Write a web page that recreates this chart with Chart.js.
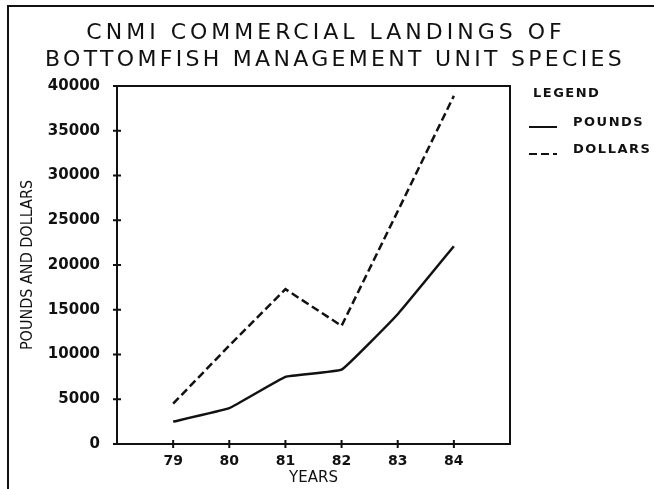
<!DOCTYPE html>
<html>
<head>
<meta charset="utf-8">
<title>CNMI Commercial Landings</title>
<script src="https://cdn.jsdelivr.net/npm/chart.js@4/dist/chart.umd.min.js"></script>
<style>
    html, body { margin: 0; padding: 0; background: #fff; }
    #wrap { width: 654px; height: 489px; position: relative; }
</style>
</head>
<body>
<div id="wrap"><canvas id="landingsChart" width="654" height="489"></canvas></div>
<script>
// --- 1. Data ---

const years = [79, 80, 81, 82, 83, 84];
const pounds = [2500, 4000, 7500, 8300, 14500, 22100];
const dollars = [4500, 11000, 17300, 13200, 26000, 38900];
const yTicks = [0, 5000, 10000, 15000, 20000, 25000, 30000, 35000, 40000];
const titleLines = ['CNMI COMMERCIAL LANDINGS OF', 'BOTTOMFISH MANAGEMENT UNIT SPECIES'];

const INK = '#111';

function toPoints(values) {
    return years.map((yr, i) => ({ x: yr, y: values[i] }));
}

// --- 2. Plugins: frame, title, tick marks, legend ---

const paperPlugin = {
    id: 'paper',
    beforeDraw(chart) {
        const ctx = chart.ctx;
        ctx.save();
        ctx.fillStyle = '#fff';
        ctx.fillRect(0, 0, chart.width, chart.height);
        ctx.strokeStyle = INK;
        ctx.lineWidth = 2;
        ctx.beginPath();
        ctx.moveTo(8, chart.height);
        ctx.lineTo(8, 6);
        ctx.lineTo(chart.width, 6);
        ctx.stroke();
        ctx.restore();
    },
    afterDraw(chart) {
        const ctx = chart.ctx;
        const a = chart.chartArea;
        const xs = chart.scales.x;
        const ys = chart.scales.y;
        ctx.save();
        ctx.strokeStyle = INK;
        ctx.lineWidth = 2;
        ctx.strokeRect(a.left, a.top, a.right - a.left, a.bottom - a.top);
        ctx.beginPath();
        ys.ticks.forEach(t => {
            const py = ys.getPixelForValue(t.value);
            ctx.moveTo(a.left - 4, py);
            ctx.lineTo(a.left + 4, py);
        });
        xs.ticks.forEach(t => {
            const px = xs.getPixelForValue(t.value);
            ctx.moveTo(px, a.bottom - 4);
            ctx.lineTo(px, a.bottom + 4);
        });
        ctx.stroke();

        // title
        ctx.fillStyle = INK;
        ctx.font = '22px "DejaVu Sans"';
        ctx.textAlign = 'center';
        ctx.textBaseline = 'middle';
        ctx.letterSpacing = '4px';
        ctx.fillText(titleLines[0], 326, 33);
        ctx.letterSpacing = '3.3px';
        ctx.fillText(titleLines[1], 335, 60);

        // legend
        ctx.font = 'bold 13px "DejaVu Sans"';
        ctx.letterSpacing = '1.5px';
        ctx.textAlign = 'left';
        ctx.fillText('LEGEND', 533, 94);
        chart.data.datasets.forEach((ds, i) => {
            const ty = 123 + i * 27;
            ctx.beginPath();
            ctx.setLineDash(ds.borderDash || []);
            ctx.lineWidth = 2;
            ctx.moveTo(529, ty + 4);
            ctx.lineTo(557, ty + 4);
            ctx.stroke();
            ctx.setLineDash([]);
            ctx.fillText(ds.label, 573, ty);
        });
        ctx.restore();
    }
};

// --- 3. Chart ---

const xTickFont = { family: '"DejaVu Sans"', size: 14, weight: 'bold' };
const yTickFont = { family: '"DejaVu Sans"', size: 15, weight: 'bold' };

new Chart(document.getElementById('landingsChart'), {
    type: 'line',
    data: {
        datasets: [
            {
                label: 'POUNDS',
                data: toPoints(pounds),
                borderColor: INK,
                borderWidth: 2.5,
                pointRadius: 0,
                tension: 0.08
            },
            {
                label: 'DOLLARS',
                data: toPoints(dollars),
                borderColor: INK,
                borderWidth: 2.5,
                borderDash: [8, 4],
                pointRadius: 0,
                tension: 0
            }
        ]
    },
    options: {
        responsive: false,
        animation: false,
        layout: { padding: { left: 18, right: 144, top: 86, bottom: 0 } },
        plugins: {
            legend: { display: false },
            title: { display: false },
            tooltip: { enabled: false }
        },
        scales: {
            x: {
                type: 'linear',
                min: 78,
                max: 85,
                afterBuildTicks: s => { s.ticks = years.map(v => ({ value: v })); },
                afterFit: s => { s.height = 45; },
                grid: { display: false },
                border: { display: false },
                ticks: { color: INK, font: xTickFont, padding: 1, callback: v => String(v) },
                title: {
                    display: true,
                    text: 'YEARS',
                    color: INK,
                    font: { family: '"DejaVu Sans"', size: 15 },
                    padding: { top: 0, bottom: 2 }
                }
            },
            y: {
                min: 0,
                max: 40000,
                afterBuildTicks: s => { s.ticks = yTicks.map(v => ({ value: v })); },
                afterFit: s => { s.width = 99; },
                grid: { display: false },
                border: { display: false },
                ticks: { color: INK, font: yTickFont, padding: 9, callback: v => String(v) },
                title: {
                    display: true,
                    text: 'POUNDS AND DOLLARS',
                    color: INK,
                    font: { family: '"Liberation Sans Narrow", "DejaVu Sans Condensed"', size: 16 },
                    padding: { top: 0, bottom: 0 }
                }
            }
        }
    },
    plugins: [paperPlugin]
});
</script>
</body>
</html>
